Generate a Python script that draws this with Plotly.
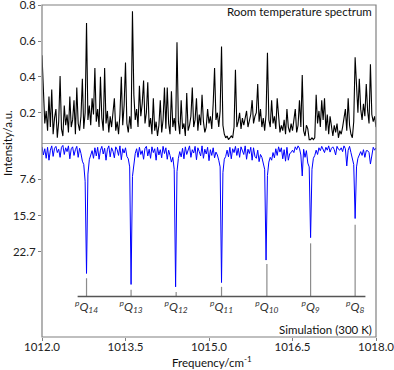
import plotly.graph_objects as go

# frequency grid: 1012.0 .. 1018.0 cm-1, step 0.025 (241 points)
freq_start = 1012.0
freq_step = 0.025

# room temperature spectrum (a.u.)
room_temp = [
    0.52, 0.35, 0.14, 0.21, 0.10, 0.29, 0.12, 0.33, 0.08, 0.17, 0.22, 0.06, 0.15, 0.405, 0.11, 0.07, 0.24, 0.13, 0.19, 0.09,
    0.29, 0.12, 0.16, 0.27, 0.08, 0.34, 0.14, 0.10, 0.18, 0.39, 0.11, 0.20, 0.70, 0.16, 0.24, 0.13, 0.28, 0.19, 0.45, 0.15,
    0.22, 0.12, 0.40, 0.17, 0.10, 0.45, 0.14, 0.21, 0.09, 0.18, 0.12, 0.20, 0.28, 0.10, 0.15, 0.08, 0.19, 0.40, 0.13, 0.24,
    0.48, 0.14, 0.09, 0.18, 0.11, 0.766, 0.30, 0.16, 0.22, 0.12, 0.35, 0.18, 0.25, 0.38, 0.14, 0.20, 0.37, 0.12, 0.17, 0.08,
    0.28, 0.10, 0.15, 0.07, 0.13, 0.27, 0.09, 0.16, 0.34, 0.11, 0.34, 0.14, 0.08, 0.32, 0.12, 0.17, 0.10, 0.593, 0.15, 0.08,
    0.27, 0.11, 0.14, 0.07, 0.31, 0.10, 0.13, 0.18, 0.34, 0.12, 0.16, 0.28, 0.10, 0.19, 0.13, 0.30, 0.15, 0.09, 0.12, 0.22,
    0.14, 0.18, 0.11, 0.25, 0.45, 0.16, 0.20, 0.12, 0.21, 0.57, 0.13, 0.08, 0.06, 0.07, 0.05, 0.06, 0.07, 0.06, 0.12, 0.44,
    0.12, 0.15, 0.20, 0.11, 0.17, 0.13, 0.18, 0.21, 0.12, 0.16, 0.19, 0.27, 0.14, 0.18, 0.20, 0.36, 0.15, 0.22, 0.12, 0.17,
    0.10, 0.19, 0.535, 0.16, 0.12, 0.27, 0.14, 0.18, 0.11, 0.28, 0.15, 0.09, 0.13, 0.10, 0.16, 0.08, 0.22, 0.12, 0.09, 0.14,
    0.10, 0.16, 0.22, 0.09, 0.13, 0.27, 0.12, 0.41, 0.10, 0.07, 0.13, 0.11, 0.05, 0.05, 0.06, 0.05, 0.06, 0.30, 0.14, 0.21,
    0.12, 0.27, 0.16, 0.28, 0.10, 0.19, 0.08, 0.18, 0.11, 0.07, 0.13, 0.09, 0.14, 0.06, 0.10, 0.08, 0.12, 0.16, 0.22, 0.10,
    0.28, 0.13, 0.08, 0.06, 0.15, 0.51, 0.30, 0.20, 0.39, 0.22, 0.16, 0.25, 0.18, 0.36, 0.21, 0.14, 0.47, 0.19, 0.15, 0.18,
    0.12,
]

# simulated spectrum at 300 K (plotted downward)
simulation = [
    0.8, 2.5, 1.2, 3.2, 0.9, 3.6, 1.5, 0.6, 2.8, 1.1, 0.7, 2.0, 1.3, 3.0, 0.9, 0.5, 2.4, 1.0, 1.8, 0.6,
    3.3, 1.2, 0.8, 2.6, 1.4, 0.7, 3.0, 1.1, 2.2, 3.8, 4.5, 8.0, 27.3, 6.5, 3.5, 2.4, 1.6, 3.2, 1.0, 2.7,
    0.9, 3.4, 1.5, 0.7, 2.3, 1.1, 3.6, 1.3, 0.6, 2.9, 1.0, 1.7, 3.1, 0.8, 1.4, 2.6, 0.6, 3.5, 1.2, 2.1,
    1.0, 2.8, 3.3, 5.0, 29.6, 7.0, 3.8, 2.2, 1.2, 3.0, 0.9, 2.4, 1.6, 3.4, 1.1, 0.7, 2.7, 1.3, 3.2, 0.8,
    2.0, 1.2, 3.6, 0.9, 2.5, 1.4, 3.1, 0.7, 2.2, 1.0, 3.4, 1.5, 2.6, 4.0, 3.0, 5.5, 30.1, 6.0, 3.2, 1.8,
    2.9, 1.1, 3.3, 0.8, 2.4, 1.2, 0.6, 3.0, 1.4, 2.1, 0.7, 3.5, 1.0, 1.8, 2.7, 0.6, 3.2, 1.3, 2.3, 0.9,
    3.7, 1.4, 2.6, 1.0, 3.1, 1.9, 2.5, 3.6, 5.0, 29.2, 6.2, 3.4, 2.8, 1.5, 2.9, 0.9, 3.3, 1.2, 2.0, 0.7,
    2.6, 1.1, 3.0, 0.8, 1.7, 2.4, 0.6, 3.4, 1.3, 2.2, 0.9, 3.6, 1.0, 2.8, 3.2, 1.5, 3.9, 2.4, 3.0, 4.2,
    5.5, 24.5, 6.8, 4.0, 3.0, 3.6, 2.0, 3.1, 1.2, 2.6, 0.8, 1.9, 1.0, 3.3, 1.4, 3.8, 0.9, 3.6, 2.2, 2.0,
    1.5, 2.0, 0.8, 1.4, 0.6, 1.1, 2.5, 6.9, 1.3, 3.0, 1.6, 4.2, 5.0, 19.8, 5.5, 3.2, 2.6, 1.5, 2.4, 1.0,
    1.6, 0.7, 1.2, 2.0, 0.9, 1.5, 0.6, 1.9, 1.1, 0.8, 1.4, 2.5, 0.7, 1.3, 1.5, 1.0, 1.8, 0.6, 1.2, 4.8,
    1.5, 0.7, 2.0, 3.2, 4.5, 15.8, 5.0, 3.2, 2.4, 1.8, 2.6, 1.4, 3.0, 1.6, 1.6, 2.0, 4.4, 2.6, 0.9, 1.5,
    1.0,
]

# assignment labels
label_names = ['14', '13', '12', '11', '10', '9', '8']
label_freq = [1012.80, 1013.60, 1014.41, 1015.225, 1016.04, 1016.825, 1017.625]
label_top = [28.3, 30.7, 31.2, 30.1, 25.3, 21.0, 17.1]
label_base = 32.1
label_text_y = 34.5
label_line = [1012.64, 1017.81]

top_ticks = [0.2, 0.4, 0.6, 0.8]
bottom_ticks = [7.6, 15.2, 22.7]
x_ticks = [1012.0, 1013.5, 1015.0, 1016.5, 1018.0]

font = 'Lato'
split = 0.5843

fig = go.Figure()

fig.add_trace(go.Scatter(
    x0=freq_start, dx=freq_step, y=room_temp,
    mode='lines', line=dict(color='black', width=1.1),
    xaxis='x', yaxis='y',
))

fig.add_trace(go.Scatter(
    x0=freq_start, dx=freq_step, y=simulation,
    mode='lines', line=dict(color='#0000ff', width=1),
    xaxis='x', yaxis='y2',
))

# stick markers under each pQ peak
sx, sy = [], []
for f, t in zip(label_freq, label_top):
    sx += [f, f, None]
    sy += [t, label_base, None]
fig.add_trace(go.Scatter(
    x=sx, y=sy, mode='lines', line=dict(color='#8c8c8c', width=1.2),
    xaxis='x', yaxis='y2',
))
fig.add_trace(go.Scatter(
    x=label_line, y=[label_base, label_base], mode='lines',
    line=dict(color='#555555', width=1.5),
    xaxis='x', yaxis='y2',
))
fig.add_trace(go.Scatter(
    x=label_freq, y=[label_text_y] * len(label_freq), mode='text',
    text=['<i><sup>p</sup>Q<sub>%s</sub></i>' % n for n in label_names],
    textfont=dict(family=font, size=12, color='#333333'),
    xaxis='x', yaxis='y2',
))

# baseline between the two panels
fig.add_shape(type='line', xref='x', yref='y2', x0=1012.0, x1=1018.0, y0=0, y1=0,
              line=dict(color='#444444', width=1.2))
# frame
fig.add_shape(type='rect', xref='paper', yref='paper', x0=0, x1=1, y0=0, y1=1,
              line=dict(color='#808080', width=1.2))

axis_font = dict(family=font, size=11.5, color='#222222')

fig.update_layout(
    width=394, height=370,
    margin=dict(l=42, r=18, t=5, b=33),
    paper_bgcolor='white', plot_bgcolor='white',
    showlegend=False,
    xaxis=dict(
        range=[1012.0, 1018.0], anchor='y2', automargin=False,
        tickvals=x_ticks, ticktext=['%.1f' % v for v in x_ticks],
        ticks='outside', ticklen=3, tickcolor='#808080',
        showgrid=False, zeroline=False, showline=False,
        tickfont=axis_font, ticklabeloverflow='allow', ticklabelstandoff=-4,
    ),
    yaxis=dict(
        domain=[split, 1], range=[0.031, 0.801], automargin=False,
        tickvals=top_ticks, ticktext=['%.1f' % v for v in top_ticks],
        ticks='outside', ticklen=3, tickcolor='#808080',
        showgrid=False, zeroline=False, showline=False,
        tickfont=axis_font, ticklabeloverflow='allow',
    ),
    yaxis2=dict(
        domain=[0, split], range=[40.6, 0], automargin=False,
        tickvals=bottom_ticks, ticktext=['%.1f' % v for v in bottom_ticks],
        ticks='outside', ticklen=3, tickcolor='#808080',
        showgrid=False, zeroline=False, showline=False,
        tickfont=axis_font,
    ),
    annotations=[
        dict(text='Room temperature spectrum', xref='paper', yref='paper',
             x=0.995, y=0.979, xanchor='right', yanchor='middle', showarrow=False,
             font=dict(family=font, size=11.5, color='#111111')),
        dict(text='Simulation (300 K)', xref='paper', yref='paper',
             x=0.995, y=0.022, xanchor='right', yanchor='middle', showarrow=False,
             font=dict(family=font, size=11.5, color='#111111')),
        dict(text='Intensity/a.u.', xref='paper', yref='paper',
             x=-0.105, y=split, xanchor='center', yanchor='middle', textangle=-90,
             showarrow=False, font=dict(family=font, size=11.5, color='#111111')),
        dict(text='Frequency/cm<sup>-1</sup>', xref='paper', yref='paper',
             x=0.51, y=-0.075, xanchor='center', yanchor='middle',
             showarrow=False, font=dict(family=font, size=11.5, color='#111111')),
    ],
)

fig.write_html('out.html', config={'displayModeBar': False},
               post_script="document.body.style.margin='0';")
